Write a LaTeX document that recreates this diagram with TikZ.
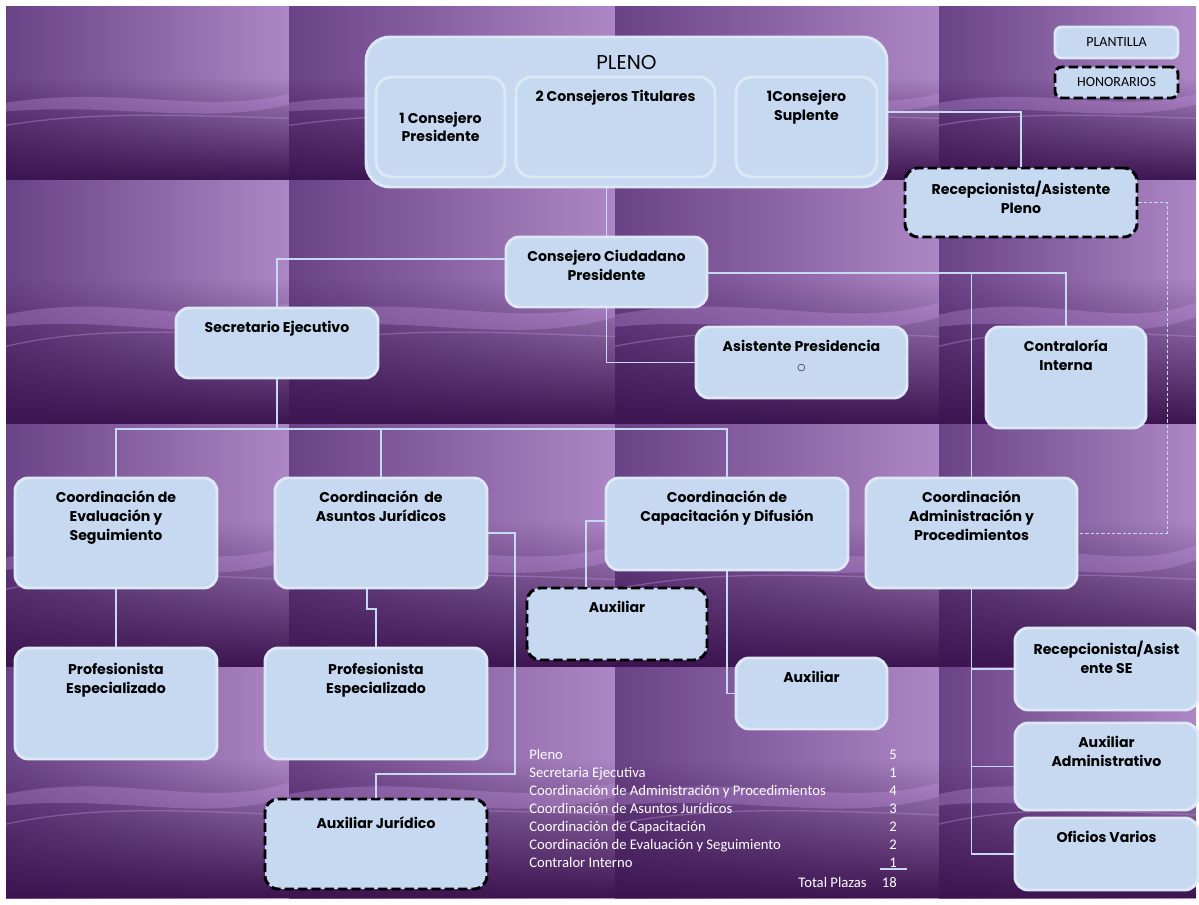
\documentclass[tikz,border=0pt]{standalone}
\usepackage{fontspec}
\setmainfont{Poppins}
\newfontfamily\calfont{Carlito}
\newfontfamily\symfont{DejaVu Sans}
\usetikzlibrary{positioning,fadings}

\definecolor{boxfill}{HTML}{C6D9F1}
\definecolor{boxline}{HTML}{DDE8F5}
\definecolor{wirecol}{HTML}{C6D9F1}
\definecolor{bgdark}{HTML}{3C1450}
\definecolor{bgmid}{HTML}{6A4286}
\definecolor{bglight}{HTML}{AD87C5}
\definecolor{bgwave}{HTML}{C99BE6}

\tikzfading[name=fadedown, top color=transparent!100, bottom color=transparent!0]

\tikzset{
  box/.style 2 args={draw=boxline, line width=2.2pt, fill=boxfill, rounded corners=10pt,
    minimum width=#1*0.75pt, minimum height=#2*0.75pt, inner sep=0pt},
  honbox/.style 2 args={draw=black, line width=2.2pt, dash pattern=on 7pt off 3pt, fill=boxfill,
    rounded corners=10pt, minimum width=#1*0.75pt, minimum height=#2*0.75pt, inner sep=0pt},
  boxtext/.style={anchor=north, yshift=-10.5pt, align=center, inner sep=0pt,
    font=\bfseries\fontsize{10.6}{14.3}\selectfont},
  wire/.style={draw=wirecol, line width=0.9pt},
  wiredash/.style={draw=wirecol, line width=0.7pt, dash pattern=on 2.5pt off 1.5pt},
  legend/.style={font=\calfont\fontsize{11}{12}\selectfont, text=white, inner sep=0pt},
}

\begin{document}
\begin{tikzpicture}[x=0.75pt, y=-0.75pt]
\useasboundingbox (0,0) rectangle (1199,905);
\fill[white] (0,0) rectangle (1199,905);

\foreach \xa/\xb in {6/289,289/615,615/939,939/1196}{
  \foreach \ya/\yb in {7/181,181/424,424/667,667/898}{
    \shade[left color=bgmid, right color=bglight] (\xa,\ya) rectangle (\xb,\yb);
    \fill[bgdark, path fading=fadedown] (\xa,{\ya+0.4*(\yb-\ya)}) rectangle (\xb,\yb);
    \fill[bgwave, opacity=0.3] (\xa,{\ya+0.55*(\yb-\ya)})
      .. controls ({\xa+0.4*(\xb-\xa)},{\ya+0.45*(\yb-\ya)}) and ({\xa+0.7*(\xb-\xa)},{\ya+0.62*(\yb-\ya)}) .. (\xb,{\ya+0.5*(\yb-\ya)})
      -- (\xb,{\ya+0.56*(\yb-\ya)})
      .. controls ({\xa+0.7*(\xb-\xa)},{\ya+0.68*(\yb-\ya)}) and ({\xa+0.4*(\xb-\xa)},{\ya+0.55*(\yb-\ya)}) .. (\xa,{\ya+0.6*(\yb-\ya)}) -- cycle;
    \draw[bgwave, opacity=0.35, line width=1pt] (\xa,{\ya+0.68*(\yb-\ya)})
      .. controls ({\xa+0.3*(\xb-\xa)},{\ya+0.6*(\yb-\ya)}) and ({\xa+0.6*(\xb-\xa)},{\ya+0.62*(\yb-\ya)}) .. (\xb,{\ya+0.64*(\yb-\ya)});
  }
}

\node[box={521}{150}, rounded corners=18pt,
  label={[anchor=north, yshift=-15pt, inner sep=0pt, font=\fontsize{15}{18}\selectfont]north:PLENO}] (pleno) at (626.5,112) {};
\node[box={129}{100}, rounded corners=12pt, align=center, font=\bfseries\fontsize{10.6}{13.5}\selectfont] (pres1) at (440.5,127) {1 Consejero\\Presidente};
\node[box={199}{100}, rounded corners=12pt, label={[boxtext]north:2 Consejeros Titulares}] (tit2) at (615.5,127) {};
\node[box={141}{100}, rounded corners=12pt, label={[boxtext]north:1Consejero\\Suplente}] (supl1) at (806.5,127) {};

\node[box={123}{31}, rounded corners=5pt, font=\calfont\fontsize{10.5}{11}\selectfont] (plantilla) at (1116.5,42.5) {PLANTILLA};
\node[honbox={123}{31}, rounded corners=5pt, font=\calfont\fontsize{10.5}{11}\selectfont] (honorarios) at (1116.5,82.5) {HONORARIOS};

\node[honbox={232}{69}, label={[boxtext]north:Recepcionista/Asistente\\Pleno}] (recpleno) at (1021,202.5) {};
\node[box={201}{70}, label={[boxtext]north:Consejero Ciudadano\\Presidente}] (ccp) at (606.5,272) {};
\node[box={202}{70}, label={[boxtext]north:Secretario Ejecutivo}] (secej) at (277,343) {};
\node[box={211}{71}, label={[boxtext]north:Asistente Presidencia\\{\symfont\mdseries\fontsize{7}{8}\selectfont ○}}] (asipres) at (801.5,362.5) {};
\node[box={160}{101}, label={[boxtext]north:Contraloría\\Interna}] (contra) at (1066,377.5) {};

\node[box={202}{110}, label={[boxtext]north:Coordinación de\\Evaluación y\\Seguimiento}] (coordeval) at (116,533) {};
\node[box={212}{110}, label={[boxtext]north:Coordinación~ de\\Asuntos Jurídicos}] (coordjur) at (381,533) {};
\node[box={242}{92}, label={[boxtext]north:Coordinación de\\Capacitación y Difusión}] (coordcap) at (727,524) {};
\node[box={211}{110}, label={[boxtext]north:Coordinación\\Administración y\\Procedimientos}] (coordadm) at (971.5,533) {};

\node[honbox={180}{72}, label={[boxtext]north:Auxiliar}] (auxcap) at (617,624) {};
\node[box={151}{71}, label={[boxtext]north:Auxiliar}] (aux2) at (811.5,693.5) {};
\node[box={202}{111}, label={[boxtext, yshift=-2pt]north:Profesionista\\Especializado}] (prof1) at (116,703.5) {};
\node[box={222}{111}, label={[boxtext, yshift=-2pt]north:Profesionista\\Especializado}] (prof2) at (376,703.5) {};
\node[honbox={222}{90}, label={[boxtext, yshift=-4pt]north:Auxiliar Jurídico}] (auxjur) at (376,844) {};

\node[box={183}{82}, label={[boxtext]north:Recepcionista/Asist\\ente SE}] (recse) at (1106.5,669) {};
\node[box={183}{87}, label={[boxtext]north:Auxiliar\\Administrativo}] (auxadm) at (1106.5,766.5) {};
\node[box={183}{72}, label={[boxtext]north:Oficios Varios}] (oficios) at (1106.5,854) {};

\coordinate (bus) at (277,429);
\coordinate (dsh) at (1167,202.5);

\draw[wire] (pleno.south -| ccp.north) -- (ccp.north);
\draw[wire] (pleno.east) -| (recpleno.north);
\draw[wiredash] (recpleno.east) -- (dsh) |- (coordadm.east);
\draw[wire] (ccp.west |- 0,259) -| (secej.north);
\draw[wire] (ccp.east |- 0,273) -| (contra.north);
\draw[wire] (ccp.east |- 0,273) -| (coordadm.north);
\draw[wire] (ccp.south) |- (asipres.west);

\draw[wire] (secej.south) -- (bus);
\draw[wire] (coordeval.north) |- (coordcap.north |- bus) -- (coordcap.north);
\draw[wire] (coordjur.north) -- (coordjur.north |- bus);

\draw[wire] (coordeval.south) -- (prof1.north);
\draw[wire] (coordjur.south -| 367,0) -- (367,609) -| (prof2.north);
\draw[wire] (coordjur.east) -| (515,774) -| (auxjur.north);
\draw[wire] (coordcap.west |- 0,521) -| (auxcap.north -| 586,0);
\draw[wire] (coordcap.south) |- (aux2.west);

\draw[wire] (coordadm.south) |- (oficios.west);
\draw[wire] (coordadm.south |- recse.west) -- (recse.west);
\draw[wire] (coordadm.south |- auxadm.west) -- (auxadm.west);

\foreach \txt/\num [count=\i] in {Pleno/5, Secretaria Ejecutiva/1,
    Coordinación de Administración y Procedimientos/4, Coordinación de Asuntos Jurídicos/3,
    Coordinación de Capacitación/2, Coordinación de Evaluación y Seguimiento/2, Contralor Interno/1}{
  \node[legend, anchor=base west] (lg\i) at (529,{741+18*\i}) {\txt};
  \node[legend, anchor=base east] (ln\i) at (897,{741+18*\i}) {\num};
}
\draw[wirecol, line width=1pt] (880,869) -- (907,869);
\node[legend, anchor=base east] (total) at (867,887) {Total Plazas};
\node[legend, anchor=base east] (totn) at (897,887) {18};

\end{tikzpicture}
\end{document}
